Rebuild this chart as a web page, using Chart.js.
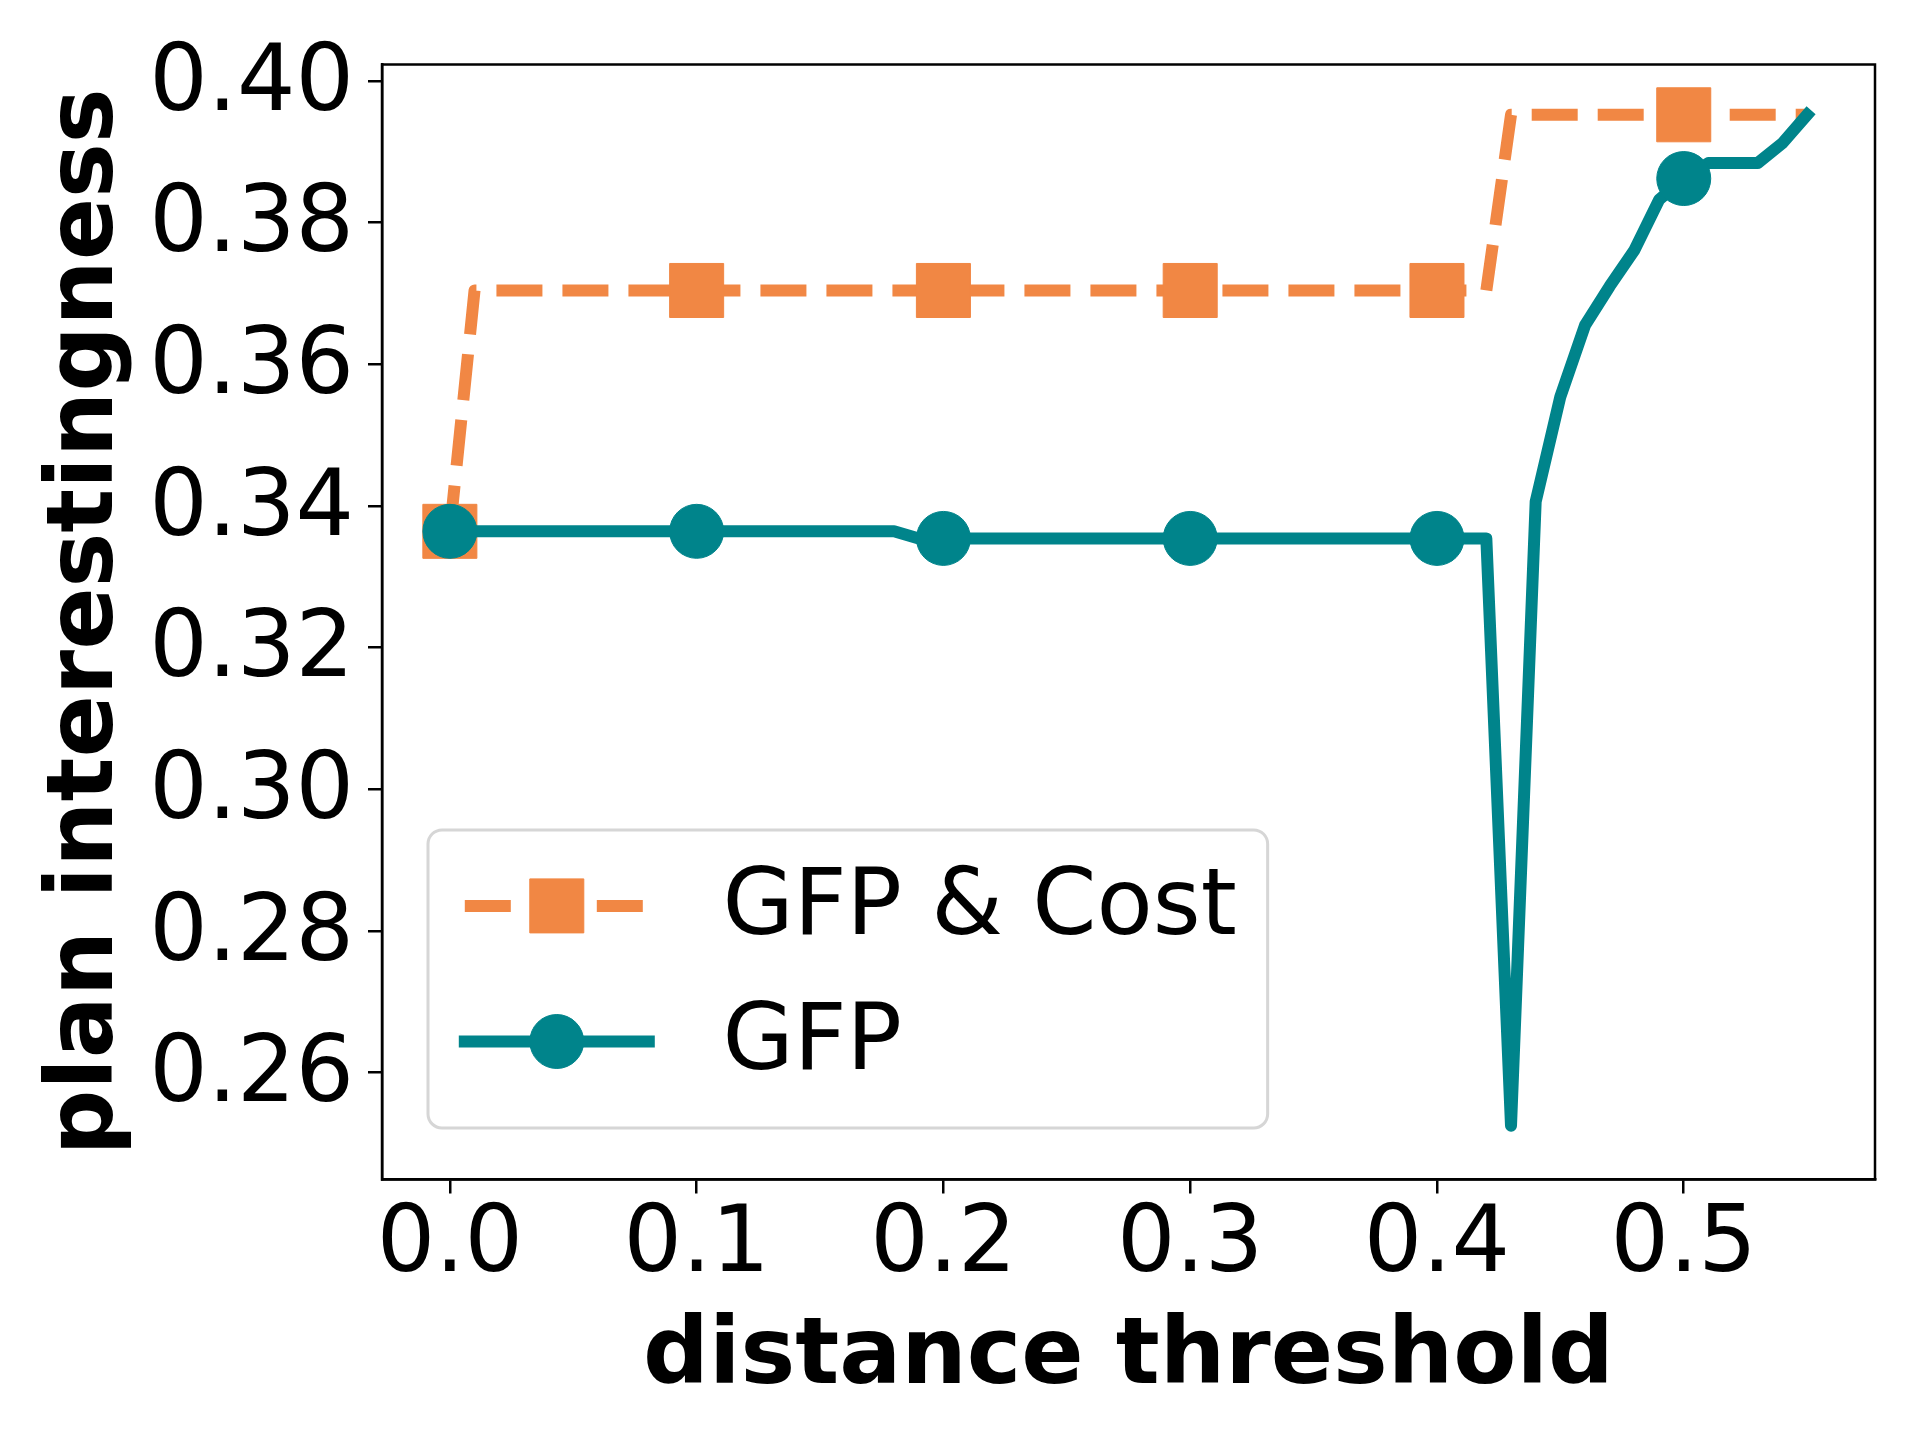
<!DOCTYPE html>
<html>
<head>
<meta charset="utf-8">
<script src="https://cdn.jsdelivr.net/npm/chart.js@4.4.1/dist/chart.umd.min.js"></script>
<style>
  html, body { margin: 0; padding: 0; background: #ffffff; }
  #wrap { width: 1920px; height: 1440px; }
</style>
</head>
<body>
<div id="wrap"><canvas id="chart" width="1920" height="1440"></canvas></div>
<script>
// ============================================================
// DATA
// ============================================================
const thresholds = [
  0.00, 0.01, 0.02, 0.03, 0.04, 0.05, 0.06, 0.07, 0.08, 0.09,
  0.10, 0.11, 0.12, 0.13, 0.14, 0.15, 0.16, 0.17, 0.18, 0.19,
  0.20, 0.21, 0.22, 0.23, 0.24, 0.25, 0.26, 0.27, 0.28, 0.29,
  0.30, 0.31, 0.32, 0.33, 0.34, 0.35, 0.36, 0.37, 0.38, 0.39,
  0.40, 0.41, 0.42, 0.43, 0.44, 0.45, 0.46, 0.47, 0.48, 0.49,
  0.50, 0.51, 0.52, 0.53, 0.54, 0.55
];

const gfpCost = [
  0.3364, 0.3704, 0.3704, 0.3704, 0.3704, 0.3704, 0.3704, 0.3704, 0.3704, 0.3704,
  0.3704, 0.3704, 0.3704, 0.3704, 0.3704, 0.3704, 0.3704, 0.3704, 0.3704, 0.3704,
  0.3704, 0.3704, 0.3704, 0.3704, 0.3704, 0.3704, 0.3704, 0.3704, 0.3704, 0.3704,
  0.3704, 0.3704, 0.3704, 0.3704, 0.3704, 0.3704, 0.3704, 0.3704, 0.3704, 0.3704,
  0.3704, 0.3704, 0.3704, 0.3952, 0.3952, 0.3952, 0.3952, 0.3952, 0.3952, 0.3952,
  0.3952, 0.3952, 0.3952, 0.3952, 0.3952, 0.3952
];

const gfp = [
  0.3364, 0.3364, 0.3364, 0.3364, 0.3364, 0.3364, 0.3364, 0.3364, 0.3364, 0.3364,
  0.3364, 0.3364, 0.3364, 0.3364, 0.3364, 0.3364, 0.3364, 0.3364, 0.3364, 0.3354,
  0.3354, 0.3354, 0.3354, 0.3354, 0.3354, 0.3354, 0.3354, 0.3354, 0.3354, 0.3354,
  0.3354, 0.3354, 0.3354, 0.3354, 0.3354, 0.3354, 0.3354, 0.3354, 0.3354, 0.3354,
  0.3354, 0.3354, 0.3354, 0.2525, 0.3406, 0.3554, 0.3655, 0.3710, 0.3761, 0.3832,
  0.3862, 0.3884, 0.3884, 0.3884, 0.3912, 0.3952
];

const seriesLabels = ['GFP & Cost', 'GFP'];
const xTicks = [0.0, 0.1, 0.2, 0.3, 0.4, 0.5];
const yTicks = [0.26, 0.28, 0.30, 0.32, 0.34, 0.36, 0.38, 0.40];

// ============================================================
// Styles
// ============================================================
const orange = '#F18744';
const teal = '#00848B';
const fontFamily = "'DejaVu Sans', sans-serif";
const fontSize = 92;
const spineWidth = 2.5;
const markEvery = 10;

Chart.defaults.font.family = fontFamily;
Chart.defaults.color = '#000000';

// Top and right spines (Chart.js only draws the axis borders)
const frameBox = {
  id: 'frameBox',
  afterDatasetsDraw(chart) {
    const { ctx, chartArea: a } = chart;
    ctx.save();
    ctx.strokeStyle = '#000000';
    ctx.lineWidth = spineWidth;
    ctx.strokeRect(a.left, a.top, a.right - a.left, a.bottom - a.top);
    ctx.restore();
  }
};

// Legend in the lower-left corner, line sample with a marker in the middle
const legendInside = {
  id: 'legendInside',
  afterDraw(chart) {
    const { ctx, chartArea } = chart;
    const fs = fontSize;
    const datasets = chart.data.datasets;
    ctx.save();
    ctx.font = `${fs}px ${fontFamily}`;
    const textW = Math.max(...datasets.map((d) => ctx.measureText(d.label).width));
    const pad = 0.4 * fs;
    const handleLen = 2 * fs;
    const textPad = 0.8 * fs;
    const boxW = 2 * pad + handleLen + textPad + textW;
    const boxH = 3.24 * fs;
    const x0 = chartArea.left + 0.5 * fs;
    const y0 = chartArea.bottom - 0.56 * fs - boxH;

    ctx.beginPath();
    ctx.roundRect(x0, y0, boxW - 6, boxH, 14);
    ctx.fillStyle = 'rgba(255, 255, 255, 0.8)';
    ctx.fill();
    ctx.lineWidth = 3;
    ctx.strokeStyle = '#d6d6d6';
    ctx.stroke();

    const rowY = [y0 + 0.826 * fs, y0 + 2.30 * fs];
    datasets.forEach((ds, i) => {
      const y = rowY[i];
      const hx = x0 + pad;
      ctx.save();
      ctx.strokeStyle = ds.borderColor;
      ctx.lineWidth = ds.borderWidth;
      ctx.lineCap = ds.borderCapStyle;
      ctx.setLineDash(ds.borderDash || []);
      ctx.beginPath();
      ctx.moveTo(hx, y);
      ctx.lineTo(hx + handleLen, y);
      ctx.stroke();
      ctx.setLineDash([]);
      ctx.fillStyle = ds.pointBackgroundColor;
      ctx.strokeStyle = ds.pointBorderColor;
      ctx.lineWidth = ds.pointBorderWidth;
      Chart.helpers.drawPoint(ctx, {
        pointStyle: ds.pointStyle,
        radius: ds.markerSize,
        borderWidth: ds.pointBorderWidth,
        rotation: 0
      }, hx + handleLen / 2, y);
      ctx.restore();

      ctx.fillStyle = '#000000';
      ctx.textAlign = 'left';
      ctx.textBaseline = 'middle';
      ctx.fillText(ds.label, hx + handleLen + textPad, y + 4);
    });
    ctx.restore();
  }
};

const everyTenth = (size) => (ctx) => (ctx.dataIndex % markEvery === 0 ? size : 0);

new Chart(document.getElementById('chart'), {
  type: 'line',
  data: {
    datasets: [
      {
        label: seriesLabels[0],
        data: thresholds.map((t, i) => ({ x: t, y: gfpCost[i] })),
        borderColor: orange,
        borderWidth: 12,
        borderDash: [46, 20],
        borderCapStyle: 'butt',
        borderJoinStyle: 'round',
        pointStyle: 'rect',
        markerSize: 38.2,
        pointRadius: everyTenth(38.2),
        pointBackgroundColor: orange,
        pointBorderColor: orange,
        pointBorderWidth: 1,
        tension: 0,
        order: 2
      },
      {
        label: seriesLabels[1],
        data: thresholds.map((t, i) => ({ x: t, y: gfp[i] })),
        borderColor: teal,
        borderWidth: 12,
        borderDash: [],
        borderCapStyle: 'square',
        borderJoinStyle: 'round',
        pointStyle: 'circle',
        markerSize: 27,
        pointRadius: everyTenth(27),
        pointBackgroundColor: teal,
        pointBorderColor: teal,
        pointBorderWidth: 1,
        tension: 0,
        order: 1
      }
    ]
  },
  options: {
    responsive: false,
    devicePixelRatio: 1,
    animation: false,
    events: [],
    layout: { padding: { left: 0, top: 64.5, right: 45, bottom: 0 } },
    plugins: {
      legend: { display: false },
      tooltip: { enabled: false }
    },
    scales: {
      x: {
        type: 'linear',
        min: -0.0275,
        max: 0.5775,
        afterFit: (scale) => { scale.height = 260.5; },
        afterBuildTicks: (scale) => { scale.ticks = xTicks.map((v) => ({ value: v })); },
        grid: { display: true, drawOnChartArea: false, tickLength: 14, color: '#000000', lineWidth: spineWidth },
        border: { display: true, color: '#000000', width: spineWidth },
        ticks: {
          autoSkip: false,
          maxRotation: 0,
          padding: 8,
          color: '#000000',
          font: { size: fontSize, lineHeight: 1 },
          callback: (v) => v.toFixed(1)
        },
        title: {
          display: true,
          text: 'distance threshold',
          color: '#000000',
          font: { size: fontSize, weight: 'bold' },
          padding: { top: 0, bottom: 26 }
        }
      },
      y: {
        type: 'linear',
        min: 0.2449,
        max: 0.4023,
        afterFit: (scale) => { scale.width = 382; },
        afterBuildTicks: (scale) => { scale.ticks = yTicks.map((v) => ({ value: v })); },
        grid: { display: true, drawOnChartArea: false, tickLength: 14, color: '#000000', lineWidth: spineWidth },
        border: { display: true, color: '#000000', width: spineWidth },
        ticks: {
          autoSkip: false,
          padding: 14,
          labelOffset: 5,
          color: '#000000',
          font: { size: fontSize, lineHeight: 1 },
          callback: (v) => v.toFixed(2)
        },
        title: {
          display: true,
          text: 'plan interestingness',
          color: '#000000',
          font: { size: fontSize, weight: 'bold' },
          padding: { top: 33, bottom: 0 }
        }
      }
    }
  },
  plugins: [frameBox, legendInside]
});
</script>
</body>
</html>
